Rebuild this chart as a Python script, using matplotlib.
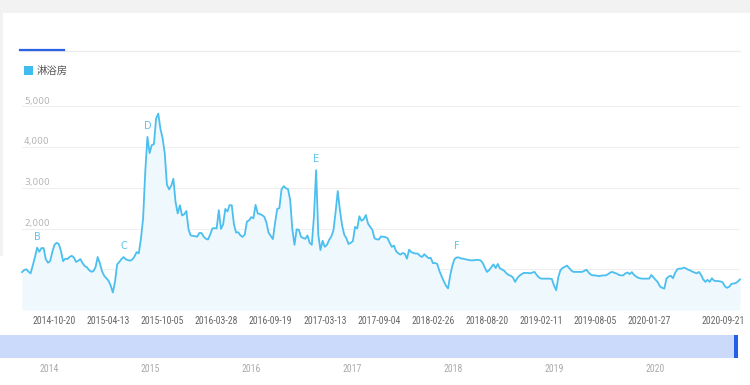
import numpy as np
import pandas as pd
import matplotlib
matplotlib.use("Agg")
import matplotlib.pyplot as plt
from matplotlib import font_manager
from matplotlib.patches import Rectangle
from matplotlib.lines import Line2D
from matplotlib.transforms import blended_transform_factory

# weekly search index, starting 2014-07-07
start_date = "2014-07-07"
values = [
    930, 980, 1000, 940, 900, 1100, 1300, 1530, 1430, 1520,
    1520, 1250, 1160, 1200, 1420, 1600, 1650, 1620, 1450, 1200,
    1260, 1250, 1300, 1330, 1290, 1180, 1210, 1250, 1150, 1080,
    1050, 980, 940, 950, 1050, 1300, 1150, 950, 840, 780,
    720, 600, 430, 690, 1120, 1180, 1250, 1300, 1245, 1225,
    1210, 1240, 1310, 1420, 1390, 1750, 2250, 3400, 4250, 3850,
    4050, 4070, 4700, 4820, 4450, 4220, 3850, 3080, 2960, 3050,
    3220, 2650, 2370, 2570, 2320, 2350, 2430, 1980, 1830, 1820,
    1810, 1800, 1890, 1890, 1800, 1750, 1730, 1850, 2000, 2010,
    2000, 2450, 1990, 2100, 2480, 2420, 2575, 2570, 2100, 1900,
    1910, 1830, 1795, 1850, 2170, 2200, 2280, 2250, 2580, 2370,
    2355, 2330, 2290, 2150, 1900, 1820, 1740, 2130, 2480, 2500,
    2960, 3040, 2990, 2970, 2700, 1980, 1600, 1980, 1970, 1800,
    1765, 1750, 1830, 1650, 1600, 2300, 3430, 1850, 1470, 1700,
    1550, 1600, 1720, 1800, 1950, 2400, 2920, 2450, 2080, 1850,
    1760, 1620, 1650, 1690, 2040, 2000, 2300, 2190, 2230, 2330,
    2120, 2040, 1970, 1760, 1735, 1730, 1805, 1800, 1790, 1765,
    1650, 1550, 1580, 1440, 1390, 1360, 1400, 1380, 1260, 1480,
    1420, 1400, 1385, 1385, 1330, 1300, 1370, 1320, 1270, 1280,
    1150, 1155, 1130, 960, 830, 710, 600, 530, 850, 1090,
    1250, 1290, 1290, 1265, 1260, 1245, 1235, 1220, 1220, 1220,
    1230, 1230, 1220, 1160, 1040, 935, 980, 1050, 1120, 1030,
    1130, 1020, 995, 960, 900, 860, 840, 800, 690, 780,
    840, 880, 910, 910, 910, 900, 920, 935, 860, 800,
    770, 770, 770, 770, 770, 760, 600, 485, 810, 980,
    1030, 1060, 1090, 1030, 970, 935, 935, 935, 935, 935,
    960, 990, 920, 870, 850, 850, 840, 830, 845, 850,
    850, 880, 920, 935, 910, 895, 860, 850, 850, 900,
    920, 880, 930, 860, 820, 790, 775, 770, 770, 770,
    770, 860, 800, 740, 680, 580, 545, 525, 770, 820,
    840, 780, 910, 1000, 1015, 1015, 1040, 1020, 990, 970,
    940, 920, 900, 935, 860, 750, 690, 740, 690, 780,
    720, 710, 710, 700, 680, 580, 545, 570, 640, 650,
    660, 700, 750,
]
series_name = "淋浴房"
tick_dates = ["2014-10-20", "2015-04-13", "2015-10-05", "2016-03-28", "2016-09-19",
              "2017-03-13", "2017-09-04", "2018-02-26", "2018-08-20", "2019-02-11",
              "2019-08-05", "2020-01-27", "2020-09-21"]
year_labels = ["2014", "2015", "2016", "2017", "2018", "2019", "2020"]
marker_letters = ["B", "C", "D", "E", "F"]
marker_dates = ["2014-08-25", "2015-06-01", "2015-08-17", "2017-02-13", "2018-05-14"]
grid_values = [1000, 2000, 3000, 4000, 5000]
label_values = [2000, 3000, 4000, 5000]

dates = pd.date_range(start_date, periods=len(values), freq="7D")
s = pd.Series(values, index=dates)

W, H = 750, 385
def fx(px):
    return px / W
def fy(py):
    return 1 - py / H

# pick a narrow font for the date labels if one is installed
installed = {f.name for f in font_manager.fontManager.ttflist}
tick_font, tick_size = "DejaVu Sans", 5.6
for name, size in [("Liberation Sans Narrow", 7.3), ("DejaVu Sans Condensed", 6.0),
                   ("Roboto Condensed", 7.0), ("Roboto", 6.2)]:
    if name in installed:
        tick_font, tick_size = name, size
        break

line_col = "#4bbfef"

fig = plt.figure(figsize=(7.5, 3.85), dpi=100)
fig.patch.set_facecolor("white")

# page background around the white card
fig.add_artist(Rectangle((0, fy(13)), 1, 13 / H, transform=fig.transFigure,
                         color="#f2f2f2", lw=0, zorder=0))
fig.add_artist(Rectangle((0, fy(256)), fx(3), 256 / H, transform=fig.transFigure,
                         color="#f2f2f2", lw=0, zorder=0))

# tab underline
fig.add_artist(Line2D([fx(20), fx(740)], [fy(50.5), fy(50.5)], color="#ebebeb", lw=0.8))
fig.add_artist(Line2D([fx(20), fx(64)], [fy(49.5), fy(49.5)], color="#2a62e4", lw=1.6))

# legend
fig.add_artist(Rectangle((fx(24), fy(75)), 9 / W, 9 / H, transform=fig.transFigure,
                         color="#40bcef", lw=0))
fig.text(fx(37), fy(70.5), series_name, fontsize=7.5, color="#555555", va="center",
         family=["Noto Sans CJK SC", "DejaVu Sans"])

# main chart
ax = fig.add_axes([fx(22), fy(310), fx(740) - fx(22), (310 - 106.3) / H])
ax.patch.set_alpha(0)
for v in grid_values:
    ax.axhline(v, color="#efefef", lw=0.8, zorder=0)
ax.fill_between(dates, values, 0, color="#eef8fd", lw=0, zorder=1)
ax.plot(dates, values, color=line_col, lw=1.3, zorder=2, clip_on=False)
ax.set_xlim(dates[0], dates[-1])
ax.set_ylim(0, 5000)
for sp in ax.spines.values():
    sp.set_visible(False)
ax.set_yticks([])
ax.set_xticks(pd.to_datetime(tick_dates))
ax.set_xticklabels(tick_dates, fontsize=tick_size, color="#666666", family=tick_font)
ax.tick_params(axis="x", length=0, pad=4.5)

trans = blended_transform_factory(fig.transFigure, ax.transData)
for v in label_values:
    ax.annotate(f"{v:,}", xy=(fx(24), v), xycoords=trans, xytext=(0, 2),
                textcoords="offset points", ha="left", va="baseline",
                fontsize=6.5, color="#b5b5b5")

for letter, d in zip(marker_letters, marker_dates):
    d = pd.Timestamp(d)
    ax.annotate(letter, xy=(d, s[d]), xytext=(0, 8), textcoords="offset points",
                ha="center", va="center", fontsize=7, color="#5ec3ea")

# zoom slider at the bottom
ax_s = fig.add_axes([0, fy(358), fx(736), 23 / H])
ax_s.set_xlim(pd.Timestamp("2013-07-08"), pd.Timestamp("2020-10-21"))
ax_s.set_ylim(0, 1)
ax_s.axvspan(pd.Timestamp("2013-07-08"), pd.Timestamp("2020-10-21"),
             color="#cbdafa", lw=0)
for sp in ax_s.spines.values():
    sp.set_visible(False)
ax_s.set_yticks([])
ax_s.set_xticks(pd.to_datetime([y + "-01-01" for y in year_labels]))
ax_s.set_xticklabels(year_labels, fontsize=tick_size, color="#aaaaaa", family=tick_font)
ax_s.tick_params(axis="x", length=0, pad=4)
fig.add_artist(Rectangle((fx(734), fy(358)), 4 / W, 23 / H, transform=fig.transFigure,
                         color="#2260e6", lw=0))

fig.savefig("out.png", dpi=100)
